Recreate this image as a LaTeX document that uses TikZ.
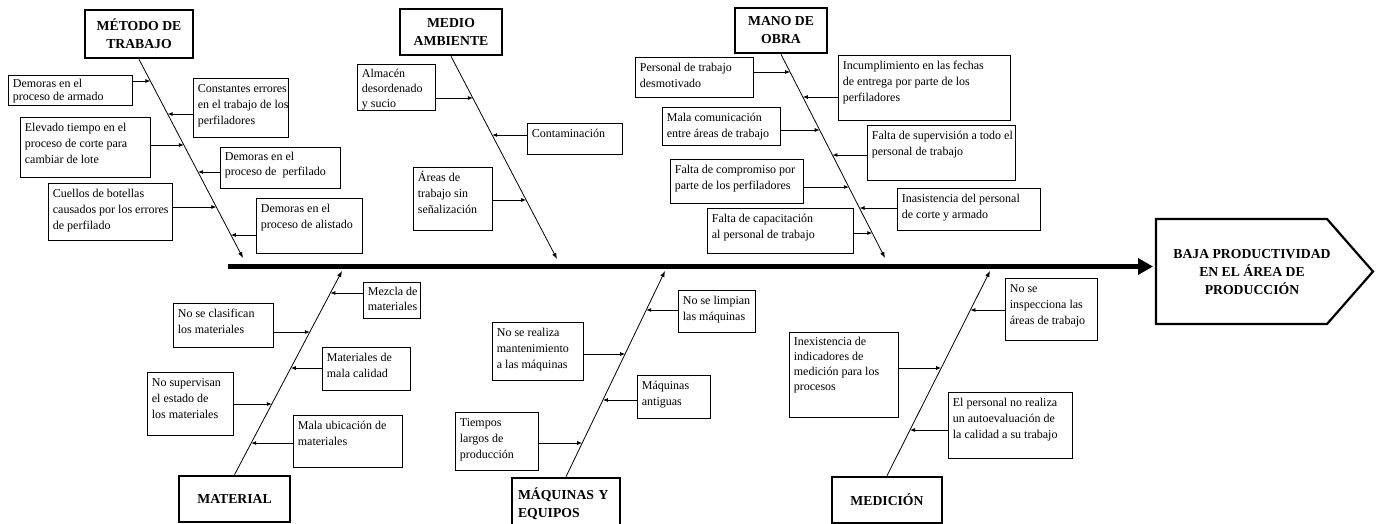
\documentclass[tikz,border=0pt]{standalone}
\usepackage{fontspec}
\setmainfont{Liberation Serif}
\usetikzlibrary{arrows.meta,calc}
\tikzset{
  cause/.style={draw, line width=0.8pt, anchor=north west, inner xsep=4.5pt, inner ysep=3pt},
  cat/.style={draw, line width=2.6pt, align=center, inner sep=2pt,
    font=\bfseries\fontsize{13.7}{18}\selectfont},
  cau/.style={line width=0.8pt, -{Latex[length=5pt,width=4pt]}},
  bra/.style={line width=0.8pt, -{Latex[length=6pt,width=4.5pt]}},
  spine/.style={line width=5.5pt, -{Triangle[length=15pt,width=16pt]}},
}
\newcommand{\cbox}[7][16]{\node[cause] (#2) at (#3,#4)
  {\parbox[c][\dimexpr#6pt-6pt\relax][t]{\dimexpr#5pt-9pt\relax}{\fontsize{12}{#1}\selectfont\begin{tabular}[t]{@{}l@{}}#7\end{tabular}}};}
\newcommand{\hook}[5]{\coordinate (#1x) at (intersection cs: first line={(#3)--(#4)}, second line={(0,#5)--(1377,#5)});
  \draw[cau] (#1.#2 |- #1x) -- (#1x);}
\begin{document}
\begin{tikzpicture}[x=1pt,y=-1pt]
\clip (0,0) rectangle (1377,523);
\fill[white] (0,0) rectangle (1377,523);
% categories
\node[cat, minimum width=108pt, minimum height=48pt] (met) at (139,34) {MÉTODO DE\\TRABAJO};
\node[cat, minimum width=102pt, minimum height=46pt] (med) at (451,32) {MEDIO\\AMBIENTE};
\node[cat, minimum width=92pt, minimum height=45pt] (man) at (781,30.5) {MANO DE\\OBRA};
\node[cat, minimum width=111pt, minimum height=46pt] (mat) at (234.5,499) {MATERIAL};
\node[cat, minimum width=108pt, minimum height=52pt, text width=96pt, align=left] (maq) at (566,504) {MÁQUINAS Y\\EQUIPOS};
\node[cat, minimum width=110pt, minimum height=46pt] (mdc) at (887,500) {MEDICIÓN};
% spine
\coordinate (sp0) at (228,266.5);
\coordinate (sp1) at (1153,266.5);
\draw[spine] (sp0) -- (sp1);
% effect
\node[font=\bfseries\fontsize{13.7}{18}\selectfont, align=center] (eff) at (1252,272) {BAJA PRODUCTIVIDAD\\EN EL ÁREA DE\\PRODUCCIÓN};
\draw[line width=2.2pt, line join=miter] (1156,219) -- (1327,219) -- (1373,271.5) -- (1327,324) -- (1156,324) -- cycle;
% branch ends
\coordinate (mb) at (243,258);
\coordinate (eb) at (557,259);
\coordinate (ob) at (885,258);
\coordinate (lt) at (342,271);
\coordinate (qt) at (665,271);
\coordinate (dt) at (990,271);
\draw[bra] (met.south) -- (mb);
\draw[bra] (med.south) -- (eb);
\draw[bra] (man.south) -- (ob);
\draw[bra] (mat.north) -- (lt);
\draw[bra] (maq.north) -- (qt);
\draw[bra] (mdc.north) -- (dt);
% Metodo de trabajo
\cbox[13]{m1}{8}{75}{124}{30}{Demoras en el\\proceso de armado}
\cbox{m2}{193}{78}{95}{59}{Constantes errores\\en el trabajo de los\\perfiladores}
\cbox{m3}{20}{117}{130}{60}{Elevado tiempo en el\\proceso de corte para\\cambiar de lote}
\cbox[15]{m4}{220}{147}{120}{41}{Demoras en el\\proceso de\ \ perfilado}
\cbox{m5}{48}{183}{124}{57}{Cuellos de botellas\\causados por los errores\\de perfilado}
\cbox{m6}{256}{198}{106}{55}{Demoras en el\\proceso de alistado}
\hook{m1}{east}{met.south}{mb}{81}
\hook{m2}{west}{met.south}{mb}{114}
\hook{m3}{east}{met.south}{mb}{145}
\hook{m4}{west}{met.south}{mb}{172}
\hook{m5}{east}{met.south}{mb}{207}
\hook{m6}{west}{met.south}{mb}{235}
% Medio ambiente
\cbox[15]{e1}{357}{64}{78}{46}{Almacén\\desordenado\\y sucio}
\cbox{e2}{527}{123}{95}{31}{Contaminación}
\cbox{e3}{413}{167}{79}{63}{Áreas de\\trabajo sin\\señalización}
\hook{e1}{east}{med.south}{eb}{98}
\hook{e2}{west}{med.south}{eb}{135}
\hook{e3}{east}{med.south}{eb}{200}
% Mano de obra
\cbox{o1}{635}{57}{118}{40}{Personal de trabajo\\desmotivado}
\cbox{o2}{838}{55}{172}{65}{Incumplimiento en las fechas\\de entrega por parte de los\\perfiladores}
\cbox{o3}{662}{107}{118}{38}{Mala comunicación\\entre áreas de trabajo}
\cbox{o4}{867}{125}{148}{55}{Falta de supervisión a todo el\\personal de trabajo}
\cbox{o5}{670}{159}{133}{44}{Falta de compromiso por\\parte de los perfiladores}
\cbox{o6}{897}{188}{143}{42}{Inasistencia del personal\\de corte y armado}
\cbox{o7}{707}{208}{146}{45}{Falta de capacitación\\al personal de trabajo}
\hook{o1}{east}{man.south}{ob}{72}
\hook{o2}{west}{man.south}{ob}{97}
\hook{o3}{east}{man.south}{ob}{130}
\hook{o4}{west}{man.south}{ob}{155}
\hook{o5}{east}{man.south}{ob}{187}
\hook{o6}{west}{man.south}{ob}{208}
\hook{o7}{east}{man.south}{ob}{233}
% Material
\cbox[15]{l1}{363}{282}{57}{36}{Mezcla de\\materiales}
\cbox{l2}{173}{303}{100}{44}{No se clasifican\\los materiales}
\cbox{l3}{322}{347}{88}{43}{Materiales de\\mala calidad}
\cbox{l4}{147}{372}{86}{63}{No supervisan\\el estado de\\los materiales}
\cbox{l5}{293}{415}{109}{52}{Mala ubicación de\\materiales}
\hook{l1}{west}{mat.north}{lt}{293}
\hook{l2}{east}{mat.north}{lt}{332}
\hook{l3}{west}{mat.north}{lt}{368}
\hook{l4}{east}{mat.north}{lt}{404}
\hook{l5}{west}{mat.north}{lt}{443}
% Maquinas y equipos
\cbox{q1}{678}{290}{77}{42}{No se limpian\\las máquinas}
\cbox{q2}{492}{322}{91}{58}{No se realiza\\mantenimiento\\a las máquinas}
\cbox{q3}{637}{375}{73}{43}{Máquinas\\antiguas}
\cbox{q4}{455}{412}{83}{58}{Tiempos\\largos de\\producción}
\hook{q1}{west}{maq.north}{qt}{310}
\hook{q2}{east}{maq.north}{qt}{354}
\hook{q3}{west}{maq.north}{qt}{400}
\hook{q4}{east}{maq.north}{qt}{443}
% Medicion
\cbox{d1}{1005}{278}{92}{62}{No se\\inspecciona las\\áreas de trabajo}
\cbox[15]{d2}{789}{332}{109}{85}{Inexistencia de\\indicadores de\\medición para los\\procesos}
\cbox{d3}{948}{392}{124}{66}{El personal no realiza\\un autoevaluación de\\la calidad a su trabajo}
\hook{d1}{west}{mdc.north}{dt}{310}
\hook{d2}{east}{mdc.north}{dt}{368}
\hook{d3}{west}{mdc.north}{dt}{430}
\end{tikzpicture}
\end{document}
